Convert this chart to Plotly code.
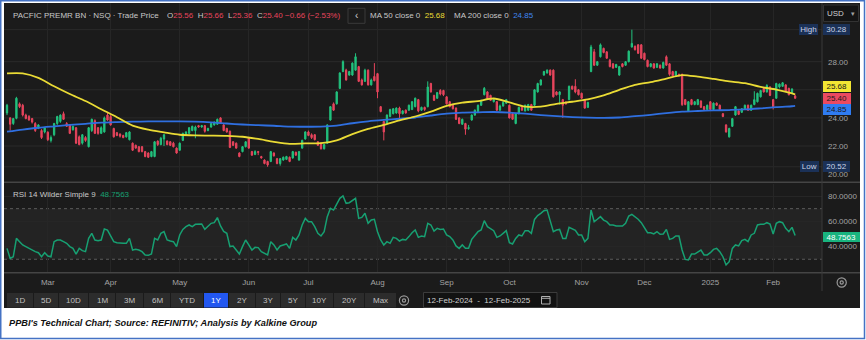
import plotly.graph_objects as go
import pandas as pd

W, H = 866, 340
UI_FONT = "Liberation Sans, Arial, sans-serif"

# ---------------------------------------------------------------- data
# NASDAQ closures inside the window (weekends are dropped by bdate_range)
HOLIDAYS = ["2024-02-19", "2024-03-29", "2024-05-27", "2024-06-19", "2024-07-04",
            "2024-09-02", "2024-11-28", "2024-12-25", "2025-01-01", "2025-01-09",
            "2025-01-20"]

OPEN = [24.35, 24.0, 23.6, 23.97, 25.0, 24.9, 24.2, 24.1, 23.95, 23.6,
        23.25, 23.1, 23.0, 22.98, 22.4, 22.8, 23.6, 23.75, 24.3, 23.6,
        23.5, 23.15, 23.3, 22.65, 22.2, 22.6, 21.95, 23.1, 23.8, 23.3,
        22.9, 23.0, 24.2, 24.1, 23.25, 22.95, 22.85, 22.75, 22.65, 22.45,
        22.2, 22.05, 21.95, 21.95, 21.6, 21.5, 21.25, 21.25, 22.35, 22.1,
        22.5, 22.35, 22.3, 22.2, 21.85, 21.7, 22.4, 22.8, 22.9, 23.1,
        23.1, 23.45, 23.35, 23.45, 23.1, 23.35, 23.5, 23.55, 24.0, 23.5,
        23.25, 23.05, 22.3, 22.2, 21.5, 21.6, 21.95, 22.55, 21.6, 21.4,
        21.6, 21.25, 21.0, 20.9, 20.9, 21.5, 21.1, 20.75, 21.0, 21.05,
        21.2, 21.15, 21.55, 21.0, 21.85, 22.5, 23.0, 22.8, 22.8, 22.3,
        22.2, 21.8, 22.2, 23.85, 25.0, 25.0, 26.1, 27.3, 27.4, 27.05,
        27.05, 27.4, 27.65, 26.7, 26.6, 27.4, 26.35, 26.95, 27.15, 24.8,
        23.75, 23.6, 24.1, 24.3, 24.35, 24.7, 24.3, 24.55, 24.55, 24.6,
        24.8, 25.3, 24.55, 24.75, 24.8, 26.45, 25.6, 25.4, 25.95, 25.95,
        25.5, 25.15, 24.95, 24.7, 24.0, 23.55, 23.6, 23.25, 23.85, 24.2,
        24.45, 24.9, 25.65, 25.85, 25.6, 25.15, 25.15, 24.55, 24.85, 25.05,
        24.9, 24.3, 23.6, 24.3, 24.75, 24.5, 24.55, 24.95, 24.9, 25.85,
        26.35, 27.05, 27.2, 27.4, 27.4, 25.85, 25.65, 25.3, 25.1, 25.3,
        26.25, 26.25, 26.0, 25.75, 25.3, 24.75, 27.3, 28.7, 27.75, 28.35,
        28.95, 28.7, 28.1, 27.85, 27.6, 27.05, 27.85, 27.75, 28.0, 29.05,
        29.1, 29.2, 29.2, 28.6, 28.1, 27.65, 27.85, 27.6, 27.75, 27.55,
        28.35, 27.85, 27.3, 27.0, 27.1, 27.1, 25.3, 24.5, 25.3, 24.95,
        24.95, 25.2, 24.8, 24.6, 25.15, 24.6, 25.05, 24.9, 24.3, 23.5,
        22.65, 23.4, 24.2, 24.5, 24.4, 24.65, 24.9, 24.55, 24.95, 25.15,
        25.5, 26.1, 25.85, 26.2, 25.3, 25.4, 26.2, 26.25, 26.35, 26.1,
        25.75, 25.56]

HIGH = [25.0, 24.05, 24.0, 25.5, 25.1, 25.0, 24.3, 24.2, 24.0, 23.7,
        23.55, 23.2, 23.35, 23.05, 22.75, 23.65, 24.15, 24.25, 24.45, 23.7,
        23.55, 23.45, 23.35, 22.75, 22.85, 22.7, 23.35, 23.95, 23.9, 23.35,
        23.4, 24.1, 24.4, 24.2, 23.3, 23.0, 22.9, 22.8, 23.0, 23.05,
        22.25, 22.1, 22.0, 22.0, 21.65, 21.55, 21.65, 22.35, 22.4, 22.65,
        22.85, 22.4, 22.35, 22.3, 21.9, 22.25, 22.95, 23.05, 23.35, 23.45,
        23.45, 23.5, 23.5, 23.5, 23.3, 23.65, 23.75, 23.95, 24.05, 23.55,
        23.3, 23.1, 22.35, 22.25, 21.55, 22.0, 22.35, 22.6, 21.65, 21.7,
        21.65, 21.3, 21.05, 20.95, 21.65, 21.55, 21.15, 21.15, 21.25, 21.3,
        21.25, 21.65, 21.6, 21.65, 22.45, 23.05, 23.1, 22.9, 22.85, 22.35,
        22.25, 22.15, 23.55, 24.85, 25.1, 25.9, 27.25, 28.1, 27.5, 27.35,
        27.95, 28.6, 27.7, 26.8, 27.5, 27.45, 26.8, 27.9, 27.2, 24.85,
        23.8, 24.25, 24.65, 24.7, 24.75, 24.8, 24.55, 24.6, 24.95, 25.2,
        25.45, 25.35, 24.8, 24.8, 26.6, 26.5, 25.65, 25.85, 26.05, 26.0,
        25.55, 25.2, 25.0, 24.75, 24.05, 23.95, 23.65, 23.5, 24.25, 24.6,
        24.95, 25.3, 26.2, 25.9, 25.65, 25.4, 25.2, 24.95, 25.2, 25.35,
        24.95, 24.35, 24.35, 24.8, 24.8, 24.95, 25.0, 25.0, 26.05, 26.5,
        26.75, 27.35, 27.45, 27.45, 27.45, 25.9, 25.9, 25.35, 25.2, 26.3,
        26.3, 26.75, 26.05, 25.8, 25.35, 25.15, 29.2, 28.9, 28.05, 29.3,
        29.0, 28.75, 28.2, 27.9, 27.85, 27.7, 27.9, 28.05, 28.8, 30.28,
        29.15, 29.25, 29.25, 28.65, 28.15, 27.9, 27.9, 27.9, 27.8, 28.0,
        28.45, 27.9, 27.35, 27.35, 27.15, 27.15, 25.35, 25.2, 25.35, 25.2,
        25.35, 25.25, 24.85, 24.95, 25.2, 25.1, 25.1, 24.95, 24.35, 23.55,
        23.3, 24.0, 24.85, 24.55, 24.7, 24.95, 24.95, 24.95, 25.9, 25.8,
        26.0, 26.2, 26.4, 26.25, 25.35, 26.5, 26.45, 26.55, 26.4, 26.15,
        26.1, 25.66]

LOW = [24.2, 23.1, 23.5, 23.9, 24.7, 24.1, 23.9, 23.8, 23.6, 23.0,
       23.2, 22.5, 22.9, 22.35, 22.25, 22.7, 23.5, 23.65, 23.85, 23.35,
       22.85, 23.1, 22.15, 22.05, 22.1, 22.3, 21.9, 23.0, 22.85, 22.8,
       22.85, 22.95, 23.8, 23.45, 22.6, 22.7, 22.6, 22.55, 22.6, 22.4,
       21.65, 21.8, 21.55, 21.55, 21.2, 21.15, 21.2, 21.2, 22.0, 22.05,
       22.0, 22.05, 22.0, 21.9, 21.45, 21.65, 22.35, 22.75, 22.85, 23.05,
       22.55, 23.3, 23.3, 22.95, 23.05, 23.3, 23.45, 23.5, 23.6, 23.05,
       22.95, 21.85, 22.0, 21.8, 21.2, 21.55, 21.9, 21.8, 21.3, 21.35,
       21.35, 21.1, 20.7, 20.52, 20.85, 21.25, 20.7, 20.6, 20.95, 21.0,
       20.85, 21.1, 21.3, 20.95, 21.8, 22.45, 22.7, 22.5, 22.4, 22.0,
       21.75, 21.75, 22.15, 23.8, 24.5, 24.95, 26.05, 27.25, 26.65, 27.0,
       27.0, 27.35, 26.55, 26.3, 26.55, 26.3, 26.3, 26.6, 25.4, 24.4,
       22.4, 23.55, 24.05, 24.25, 24.3, 23.85, 24.25, 24.3, 24.5, 24.55,
       24.75, 24.4, 24.5, 24.5, 24.75, 25.8, 25.2, 25.35, 25.6, 25.55,
       24.95, 24.75, 24.6, 23.85, 23.55, 23.5, 22.8, 23.15, 23.8, 24.15,
       24.4, 24.85, 25.6, 25.35, 25.2, 25.1, 24.5, 24.5, 24.8, 25.0,
       23.95, 23.85, 23.55, 24.25, 24.5, 24.45, 24.5, 24.5, 24.85, 25.8,
       26.3, 27.0, 27.15, 27.0, 25.45, 25.6, 24.95, 24.0, 24.95, 25.25,
       26.0, 25.75, 25.6, 25.35, 24.65, 24.7, 27.25, 27.7, 27.7, 28.3,
       28.6, 28.2, 27.6, 27.5, 27.55, 27.0, 27.6, 27.7, 27.95, 29.0,
       28.8, 28.55, 28.2, 28.1, 27.6, 27.6, 27.5, 27.55, 27.5, 27.5,
       27.7, 27.0, 26.95, 26.95, 26.95, 24.85, 24.9, 24.45, 24.9, 24.9,
       24.9, 24.7, 24.55, 24.55, 24.55, 24.55, 24.85, 24.55, 24.05, 22.95,
       22.6, 23.35, 24.15, 24.2, 24.35, 24.6, 24.5, 24.5, 24.9, 25.1,
       25.45, 25.8, 25.8, 25.55, 24.6, 25.35, 26.1, 26.2, 25.85, 25.6,
       25.7, 25.36]

CLOSE = [24.9, 23.55, 23.95, 25.4, 24.8, 24.2, 23.95, 23.85, 23.7, 23.1,
         23.5, 22.6, 23.3, 22.45, 22.6, 23.6, 24.1, 24.2, 23.9, 23.4,
         22.9, 23.4, 22.2, 22.1, 22.8, 22.4, 23.3, 23.9, 22.9, 22.9,
         23.3, 24.0, 23.85, 23.5, 22.65, 22.75, 22.7, 22.6, 22.95, 23.0,
         21.7, 21.85, 21.6, 21.6, 21.25, 21.2, 21.6, 22.3, 22.1, 22.55,
         22.8, 22.1, 22.05, 21.95, 21.5, 22.2, 22.9, 23.0, 23.3, 23.4,
         23.35, 23.35, 23.45, 23.05, 23.25, 23.6, 23.7, 23.9, 23.65, 23.1,
         23.0, 21.9, 22.05, 21.85, 21.25, 21.95, 22.3, 21.85, 21.35, 21.6,
         21.55, 21.15, 20.75, 20.65, 21.6, 21.3, 20.75, 21.1, 21.2, 21.25,
         20.9, 21.6, 21.35, 21.6, 22.4, 23.0, 22.75, 22.6, 22.45, 22.05,
         21.8, 22.1, 23.5, 24.8, 24.55, 25.85, 27.2, 28.0, 26.7, 27.3,
         27.9, 28.35, 26.6, 26.35, 27.4, 26.35, 26.7, 26.65, 25.85, 24.45,
         23.0, 24.2, 24.6, 24.65, 24.7, 24.3, 24.5, 24.35, 24.9, 25.15,
         25.4, 24.5, 24.75, 24.6, 26.2, 25.85, 25.25, 25.8, 25.7, 25.65,
         25.0, 24.8, 24.65, 23.9, 23.6, 23.9, 23.2, 23.3, 24.2, 24.55,
         24.9, 25.2, 26.1, 25.4, 25.25, 25.3, 24.55, 24.85, 25.1, 25.3,
         24.0, 23.9, 24.3, 24.75, 24.55, 24.9, 24.95, 24.55, 26.0, 26.45,
         26.7, 27.3, 27.4, 27.05, 25.5, 25.65, 25.85, 24.9, 25.0, 26.25,
         26.05, 25.85, 25.65, 25.4, 24.7, 25.1, 29.05, 27.75, 28.0, 29.2,
         28.65, 28.25, 27.65, 27.55, 27.8, 27.65, 27.65, 28.0, 28.75, 29.3,
         28.85, 28.6, 28.25, 28.15, 27.65, 27.85, 27.55, 27.85, 27.55, 27.95,
         27.75, 27.1, 27.0, 27.3, 27.0, 24.95, 24.95, 25.15, 24.95, 25.15,
         25.3, 24.75, 24.6, 24.9, 24.6, 25.05, 24.9, 24.6, 24.1, 23.0,
         23.25, 23.95, 24.8, 24.25, 24.65, 24.9, 24.55, 24.9, 25.3, 25.75,
         25.95, 25.85, 26.3, 25.6, 24.8, 26.45, 26.4, 26.5, 25.9, 25.65,
         26.06, 25.40]

RSI = [38.6, 30.7, 32.0, 46.5, 43.9, 41.3, 40.0, 38.6, 37.3, 36.0,
       35.2, 32.0, 35.2, 32.6, 32.0, 43.9, 45.2, 45.2, 43.9, 42.6,
       40.0, 38.6, 34.1, 38.6, 36.8, 36.0, 46.5, 50.5, 45.2, 44.7,
       45.2, 53.9, 53.1, 47.9, 43.9, 43.1, 42.6, 42.6, 42.6, 46.5,
       37.3, 37.8, 37.3, 36.0, 33.4, 33.1, 34.1, 46.5, 45.2, 50.5,
       51.8, 45.2, 44.4, 43.9, 40.0, 49.2, 53.6, 55.8, 57.1, 55.8,
       57.6, 57.6, 57.9, 53.6, 55.8, 58.4, 58.9, 62.9, 56.3, 52.0,
       50.5, 40.0, 40.5, 37.3, 34.1, 40.0, 45.2, 41.3, 37.3, 39.4,
       39.2, 36.0, 34.7, 33.4, 43.9, 41.3, 37.3, 40.5, 41.3, 42.1,
       38.6, 47.3, 45.2, 49.2, 57.1, 62.3, 59.7, 59.7, 55.8, 50.5,
       48.4, 51.8, 63.7, 70.3, 68.9, 74.2, 78.2, 80.0, 74.2, 74.7,
       76.8, 78.2, 62.3, 63.1, 66.3, 58.4, 61.0, 61.6, 51.8, 45.2,
       41.3, 43.9, 42.6, 47.3, 46.5, 44.4, 45.7, 45.2, 47.9, 51.0,
       53.1, 47.3, 48.4, 47.9, 58.4, 57.1, 52.3, 54.4, 53.6, 53.9,
       49.2, 47.9, 45.2, 40.5, 38.6, 41.3, 38.6, 38.6, 45.7, 49.2,
       51.8, 53.1, 60.5, 55.8, 54.4, 52.6, 47.3, 48.4, 50.5, 52.6,
       43.1, 42.1, 46.5, 49.2, 48.4, 52.6, 52.6, 50.5, 61.5, 64.5,
       66.3, 68.4, 68.9, 61.0, 51.8, 53.1, 53.6, 46.5, 46.5, 55.2,
       54.0, 52.8, 49.2, 49.2, 43.9, 46.5, 68.9, 59.7, 61.6, 63.7,
       61.0, 59.7, 57.1, 57.1, 56.3, 56.3, 56.3, 58.4, 64.2, 65.5,
       63.7, 61.6, 58.9, 54.4, 51.0, 51.0, 50.0, 51.8, 49.7, 50.0,
       53.6, 45.7, 46.5, 48.4, 48.4, 37.3, 29.9, 29.4, 34.1, 34.1,
       36.0, 37.3, 33.4, 33.4, 35.2, 37.8, 38.6, 36.0, 32.0, 25.5,
       28.1, 38.6, 41.3, 40.5, 44.7, 45.7, 43.9, 49.2, 50.5, 57.1,
       57.6, 57.6, 58.9, 57.9, 50.0, 58.4, 59.7, 58.9, 54.4, 51.8,
       55.2, 48.7563]

# moving averages sampled every fifth session (plus the last one)
MA_SESSIONS = list(range(0, 251, 5)) + [251]
MA50 = [27.17, 27.17, 26.85, 26.25, 25.7, 25.2, 24.62, 24.05, 23.45, 23.16,
        22.97, 22.8, 22.75, 22.74, 22.72, 22.66, 22.5, 22.3, 22.15, 22.18,
        22.2, 22.4, 22.85, 23.22, 23.5, 23.82, 24.1, 24.45, 24.85, 25.08,
        25.2, 25.38, 25.1, 24.8, 24.8, 25.0, 25.15, 25.32, 25.6, 26.0,
        26.35, 26.55, 26.8, 27.05, 26.93, 26.77, 26.6, 26.47, 26.2, 26.02,
        25.75, 25.68]
MA200 = [23.02, 23.17, 23.3, 23.4, 23.5, 23.58, 23.66, 23.7, 23.73, 23.75,
         23.75, 23.75, 23.73, 23.68, 23.6, 23.53, 23.48, 23.44, 23.38, 23.37,
         23.38, 23.45, 23.62, 23.76, 23.86, 23.94, 24.03, 24.17, 24.3, 24.38,
         24.4, 24.42, 24.38, 24.3, 24.2, 24.12, 24.06, 24.02, 24.0, 24.03,
         24.12, 24.22, 24.34, 24.44, 24.49, 24.53, 24.56, 24.6, 24.68, 24.77,
         24.83, 24.85]

# price scale labels left visible beside the value tags
PRICE_TICKS = [20, 22, 24, 28]
PRICE_GRID = [22, 24, 26, 28]
RSI_TICKS = [40, 60, 80]
PERIOD_BUTTONS = ["1D", "5D", "10D", "1M", "3M", "6M", "YTD", "1Y",
                  "2Y", "3Y", "5Y", "10Y", "20Y", "Max"]

# ---------------------------------------------------------------- sessions
dates = pd.bdate_range("2024-02-12", "2025-02-12")
dates = dates[~dates.isin(pd.to_datetime(HOLIDAYS))]
sessions = list(range(len(dates)))

month_pos, month_txt = [], []
for i in range(1, len(dates)):
    if dates[i].month != dates[i - 1].month:
        month_pos.append(i)
        month_txt.append(str(dates[i].year) if dates[i].month == 1 else dates[i].strftime("%b"))

HI_VAL, LO_VAL = max(HIGH), min(LOW)
LAST_CLOSE = CLOSE[-1]

# ---------------------------------------------------------------- colours
BG = "#1b1b1b"
BAND = "#232323"
GRID = "#2a2a2a"
SEP = "#454545"
GREEN = "#22c27e"
RED = "#e8455d"
YELLOW = "#eadb35"
BLUE = "#2f6fe0"
RSI_COL = "#17a072"
LABEL = "#a3a3a3"
NAVY = "#1b3157"
HEAD = "#c8c8c8"


def fx(p):
    return p / W


def fy(p):
    return 1 - p / H


shapes, notes = [], []


def rect(x0, y0, x1, y1, fill="rgba(0,0,0,0)", line="rgba(0,0,0,0)", lw=0, layer="above"):
    shapes.append(dict(type="rect", xref="paper", yref="paper",
                       x0=fx(x0), x1=fx(x1), y0=fy(y1), y1=fy(y0),
                       fillcolor=fill, line=dict(color=line, width=lw), layer=layer))


def seg(x0, y0, x1, y1, color, lw=1, layer="above", dash="solid"):
    shapes.append(dict(type="line", xref="paper", yref="paper",
                       x0=fx(x0), x1=fx(x1), y0=fy(y0), y1=fy(y1),
                       line=dict(color=color, width=lw, dash=dash), layer=layer))


def ring(cx, cy, r, color, lw=1.2):
    shapes.append(dict(type="circle", xref="paper", yref="paper",
                       x0=fx(cx - r), x1=fx(cx + r), y0=fy(cy + r), y1=fy(cy - r),
                       line=dict(color=color, width=lw), layer="above"))


def text(x, y, s, color, size=8, anchor="left", family=UI_FONT):
    notes.append(dict(xref="paper", yref="paper", x=fx(x), y=fy(y), text=s,
                      showarrow=False, xanchor=anchor, yanchor="middle", borderpad=0,
                      font=dict(color=color, size=size, family=family)))


def tag(x0, x1, yc, s, bg, fg, h=11):
    notes.append(dict(xref="paper", yref="paper", x=fx(x0), y=fy(yc), text=s,
                      showarrow=False, xanchor="left", yanchor="middle",
                      width=x1 - x0, height=h, align="center", valign="middle",
                      bgcolor=bg, borderpad=0, borderwidth=0,
                      font=dict(color=fg, size=8, family=UI_FONT)))


def coloured(s, color):
    return f"<span style='color:{color}'>{s}</span>"


# ---------------------------------------------------------------- geometry
PX_LEFT, PX_AXIS = 4, 822
STEP = 3.14          # pixels per session
FIRST_X = 7          # pixel of session 0
x_range = [(PX_LEFT - FIRST_X) / STEP, (PX_AXIS - FIRST_X) / STEP]

PRICE_TOP, PRICE_BOT = 3, 181
RSI_TOP, RSI_BOT = 184, 272
P_PX = 14.05         # pixels per dollar
P28_Y = 61.7
price_range = [28 - (PRICE_BOT - P28_Y) / P_PX, 28 + (P28_Y - PRICE_TOP) / P_PX]
R_PX = 1.265
R80_Y = 196
rsi_range = [80 - (RSI_BOT - R80_Y) / R_PX, 80 + (R80_Y - RSI_TOP) / R_PX]

# ---------------------------------------------------------------- frame
rect(0.75, 0.75, 864.5, 338.5, line="#4472c4", lw=1.5, layer="below")
rect(4, 3, 860, 308, fill=BG, layer="below")
# RSI neutral band and its dashed bounds
shapes.append(dict(type="rect", xref="paper", yref="y2", x0=fx(PX_LEFT), x1=fx(PX_AXIS),
                   y0=30, y1=70, fillcolor=BAND, line=dict(width=0), layer="below"))
for lvl in (30, 70):
    shapes.append(dict(type="line", xref="paper", yref="y2", x0=fx(PX_LEFT), x1=fx(PX_AXIS),
                       y0=lvl, y1=lvl, line=dict(color="#5a5a5a", width=1, dash="3px,3px"),
                       layer="below"))
# price grid, plus the period high / low guides
for lvl in PRICE_GRID + [HI_VAL, LO_VAL]:
    shapes.append(dict(type="line", xref="paper", yref="y", x0=fx(PX_LEFT), x1=fx(PX_AXIS),
                       y0=lvl, y1=lvl, line=dict(color=GRID, width=1), layer="below"))

# panel separators
seg(4, 182.3, 860, 182.3, SEP, 1.5)
seg(4, 272.7, 860, 272.7, SEP, 1.5)
seg(PX_AXIS, 3, PX_AXIS, 291, "#3a3a3a", 1)

# ---------------------------------------------------------------- traces
fig = go.Figure()
fig.add_trace(go.Candlestick(
    x=sessions, open=OPEN, high=HIGH, low=LOW, close=CLOSE,
    xaxis="x", yaxis="y", hoverinfo="none", showlegend=False,
    increasing=dict(line=dict(color=GREEN, width=1), fillcolor=GREEN),
    decreasing=dict(line=dict(color=RED, width=1), fillcolor=RED)))
fig.add_trace(go.Scatter(x=MA_SESSIONS, y=MA200, mode="lines", xaxis="x", yaxis="y",
                         line=dict(color=BLUE, width=1.8, shape="spline", smoothing=0.8),
                         hoverinfo="skip", showlegend=False))
fig.add_trace(go.Scatter(x=MA_SESSIONS, y=MA50, mode="lines", xaxis="x", yaxis="y",
                         line=dict(color=YELLOW, width=1.8, shape="spline", smoothing=0.8),
                         hoverinfo="skip", showlegend=False))
fig.add_trace(go.Scatter(x=sessions, y=RSI, mode="lines", xaxis="x2", yaxis="y2",
                         line=dict(color=RSI_COL, width=1.5),
                         hoverinfo="skip", showlegend=False))

# ---------------------------------------------------------------- header
TY = 15.7
text(12, TY, "PACFIC PREMR BN · NSQ · Trade Price", HEAD)
chg = CLOSE[-1] - CLOSE[-2]
ohlc_line = "  ".join(f"{k}{coloured(f'{v:.2f}', RED)}" for k, v in
                      (("O", OPEN[-1]), ("H", HIGH[-1]), ("L", LOW[-1]), ("C", CLOSE[-1])))
ohlc_line += " " + coloured(f"{chg:.2f} ({chg / CLOSE[-2] * 100:.2f}%)".replace("-", "\u2212"), RED)
text(165.5, TY, ohlc_line, HEAD)
rect(348, 8.3, 365, 23.3, line="#3a3a3a", lw=1)
text(356.5, TY, "‹", "#d0d0d0", size=10, anchor="center")
text(369, TY, "MA 50 close 0  " + coloured(f"{MA50[-1]:.2f}", YELLOW), HEAD)
text(453, TY, "MA 200 close 0  " + coloured(f"{MA200[-1]:.2f}", "#3f86f0"), HEAD)
rect(823.5, 5, 858.5, 21.5, fill="#141414", line="#333333", lw=1)
text(826, 13.3, "USD", "#d0d0d0")
text(853, 13.3, "▾", "#a0a0a0", size=7, anchor="center")

# RSI legend
text(12, 194, "RSI 14 Wilder Simple 9  " + coloured(f"{RSI[-1]:.4f}", RSI_COL), HEAD)

# ---------------------------------------------------------------- axis tags
tag(799, 818, 29.5, "High", NAVY, "#c9d3e6")
tag(822.5, 849.5, 29.5, f"{HI_VAL:.2f}", NAVY, "#c9d3e6")
tag(799.5, 818, 166.7, "Low", NAVY, "#c9d3e6")
tag(822.5, 849.5, 166.7, f"{LO_VAL:.2f}", NAVY, "#c9d3e6")
tag(822.5, 850, 86.5, f"{MA50[-1]:.2f}", "#f3e633", "#1a1a1a")
tag(822.5, 850, 98.3, f"{LAST_CLOSE:.2f}", "#eb4a60", "#1a1a1a")
tag(822.5, 850, 109.3, f"{MA200[-1]:.2f}", "#2f7cf2", "#1a1a1a")
tag(822.5, 859, 236.7, f"{RSI[-1]:.4f}", "#19b47f", "#ffffff", h=10)

# settings icons
for cx, cy in ((841.7, 282.5), (404, 300.5)):
    ring(cx, cy, 4.6, "#9a9a9a", 1.2)
    ring(cx, cy, 1.6, "#9a9a9a", 1.2)

# ---------------------------------------------------------------- toolbar
edges = [7, 34, 59, 89, 116, 144, 171, 204, 229, 256, 281, 306, 334, 365, 397]
for k, lab in enumerate(PERIOD_BUTTONS):
    x0, x1 = edges[k], edges[k + 1] - 1
    active = lab == "1Y"
    rect(x0, 293, x1, 307.5, fill="#2257f0" if active else "#2c2c2c", layer="above")
    text((x0 + x1) / 2, 300.3, lab, "#ffffff" if active else "#c0c0c0", anchor="center")
rect(423.5, 292.5, 557, 307.5, fill="#121212", line="#3c3c3c", lw=1)
text(426, 300.3, f"{dates[0]:%d-%b-%Y}  -  {dates[-1]:%d-%b-%Y}", "#cfcfcf")
rect(541.5, 296.5, 550, 304, line="#b0b0b0", lw=1)
seg(541.5, 298.3, 550, 298.3, "#b0b0b0", 1)

# caption
text(8, 322.7, "PPBI's Technical Chart; Source: REFINITIV; Analysis by Kalkine Group",
     "#111111", size=9.2, family="Liberation Sans, Arial, sans-serif")
notes[-1]["font"]["weight"] = "bold"
notes[-1]["font"]["style"] = "italic"

# ---------------------------------------------------------------- layout
axis_common = dict(range=x_range, domain=[fx(PX_LEFT), fx(PX_AXIS)], tickvals=month_pos,
                   showgrid=True, gridcolor="#262626", gridwidth=1, zeroline=False,
                   showline=False, fixedrange=True)
fig.update_layout(
    width=W, height=H, margin=dict(l=0, r=0, t=0, b=0, pad=0),
    paper_bgcolor="#ffffff", plot_bgcolor="rgba(0,0,0,0)",
    font=dict(family=UI_FONT, size=8, color=LABEL),
    hovermode=False, showlegend=False, boxgap=0.4,
    xaxis=dict(axis_common, anchor="y", showticklabels=False,
               rangeslider=dict(visible=False)),
    yaxis=dict(domain=[fy(PRICE_BOT), fy(PRICE_TOP)], range=price_range, side="right",
               anchor="x", tickvals=PRICE_TICKS, ticktext=[f"{v:.2f}" for v in PRICE_TICKS],
               showgrid=False, zeroline=False, ticks="", ticklabelstandoff=5,
               tickfont=dict(size=8, color=LABEL), fixedrange=True),
    xaxis2=dict(axis_common, anchor="y2", ticktext=month_txt, ticks="",
                ticklabelstandoff=4, tickfont=dict(size=8, color=LABEL)),
    yaxis2=dict(domain=[fy(RSI_BOT), fy(RSI_TOP)], range=rsi_range, side="right",
                anchor="x2", tickvals=RSI_TICKS, ticktext=[f"{v:.4f}" for v in RSI_TICKS],
                showgrid=True, gridcolor="#262626", zeroline=False, ticks="",
                ticklabelstandoff=5, tickfont=dict(size=8, color=LABEL), fixedrange=True),
    shapes=shapes, annotations=notes,
)

fig.write_html("out.html", config={"displayModeBar": False, "staticPlot": True})
